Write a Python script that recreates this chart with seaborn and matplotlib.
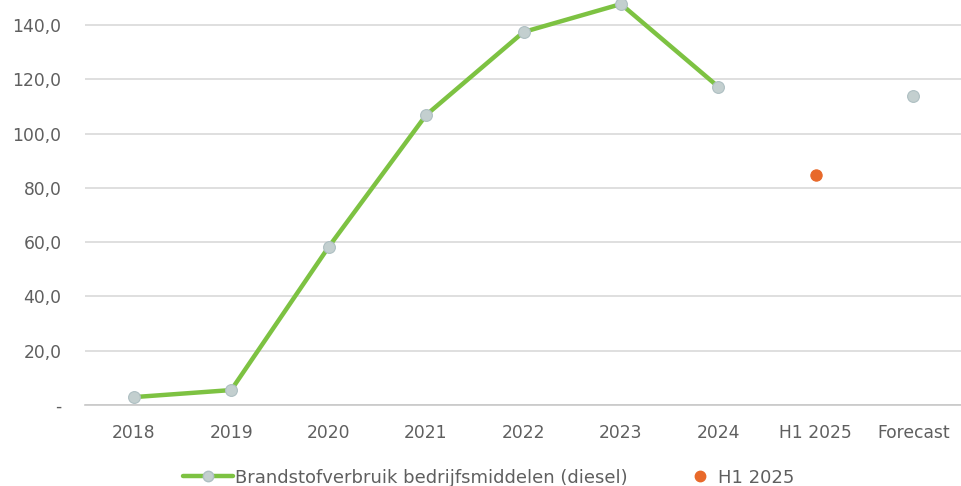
import numpy as np
import pandas as pd
import matplotlib
matplotlib.use("Agg")
import matplotlib.pyplot as plt
from matplotlib.lines import Line2D
import seaborn as sns

categories = ["2018", "2019", "2020", "2021", "2022", "2023", "2024", "H1 2025", "Forecast"]
diesel = [2.9, 5.5, 58.2, 106.8, 137.4, 147.7, 117.2, None, 113.9]
h1_label = "H1 2025"
h1_value = 84.7
y_ticks = [0, 20, 40, 60, 80, 100, 120, 140]
series_name = "Brandstofverbruik bedrijfsmiddelen (diesel)"

GREEN = "#7dc242"
MARKER = "#c3cfcf"
MARKER_EDGE = "#aebfc2"
ORANGE = "#e8692a"
TEXT = "#5f5f5f"
GRID = "#d9d9d9"

sns.set_theme(style="white")
plt.rcParams["font.family"] = ["DejaVu Sans"]

pos = {c: i for i, c in enumerate(categories)}
df = pd.DataFrame({"cat": categories, "x": range(len(categories)), "y": diesel})
line_df = df.iloc[:7]
fc_df = df[df["cat"] == "Forecast"]
h1_df = pd.DataFrame({"x": [pos[h1_label]], "y": [h1_value]})

fig = plt.figure(figsize=(9.62, 4.86), dpi=100)
ax = fig.add_axes([85 / 962, (486 - 405) / 486, 1 - 85 / 962, 405 / 486])

sns.lineplot(data=line_df, x="x", y="y", ax=ax, color=GREEN, linewidth=3.2,
             marker="o", markersize=8.5, markerfacecolor=MARKER,
             markeredgecolor=MARKER_EDGE, markeredgewidth=0.8, clip_on=False, zorder=3)
sns.scatterplot(data=fc_df, x="x", y="y", ax=ax, color=MARKER, edgecolor=MARKER_EDGE,
                linewidth=0.8, s=72, zorder=3, clip_on=False)
sns.scatterplot(data=h1_df, x="x", y="y", ax=ax, color=ORANGE, edgecolor=ORANGE,
                linewidth=0.8, s=66, zorder=3, clip_on=False)

ax.set_xlim(-0.5, len(categories) - 0.5)
ax.set_ylim(0, 149.2)
ax.set_xticks(range(len(categories)))
ax.set_xticklabels(categories)
ax.set_yticks(y_ticks)
ax.set_yticklabels(["-" if v == 0 else f"{v:.1f}".replace(".", ",") for v in y_ticks])
ax.tick_params(axis="both", colors=TEXT, labelsize=12.3, length=0)
ax.tick_params(axis="y", pad=17)
ax.tick_params(axis="x", pad=14)
ax.yaxis.grid(True, color=GRID, linewidth=1.2)
ax.set_axisbelow(True)
for s in ["top", "right", "left"]:
    ax.spines[s].set_visible(False)
ax.spines["bottom"].set_color("#c8c8c8")
ax.spines["bottom"].set_linewidth(1.2)
ax.set_xlabel("")
ax.set_ylabel("")

h_line = Line2D([], [], color=GREEN, linewidth=3.2, marker="o", markersize=7.5,
                markerfacecolor=MARKER, markeredgecolor=MARKER_EDGE)
h_dot = Line2D([], [], linestyle="none", marker="o", markersize=7.5,
               markerfacecolor=ORANGE, markeredgecolor=ORANGE)
leg_y = 1 - 477.5 / 486
leg1 = fig.legend([h_line], [series_name], loc="center left", bbox_to_anchor=(183 / 962, leg_y),
                  frameon=False, fontsize=13, labelcolor=TEXT, handlelength=2.75,
                  handletextpad=0.15, borderpad=0, borderaxespad=0)
fig.legend([h_dot], [h1_label], loc="center left", bbox_to_anchor=(685 / 962, leg_y),
           frameon=False, fontsize=13, labelcolor=TEXT, handlelength=1.66,
           handletextpad=0.15, borderpad=0, borderaxespad=0)

fig.savefig("out.png", dpi=100)
